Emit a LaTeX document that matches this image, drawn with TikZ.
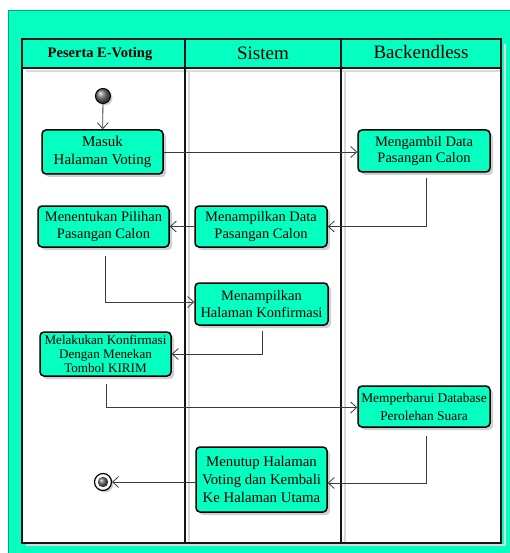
\documentclass[tikz,border=0pt]{standalone}
\usepackage{fontspec}
\setmainfont{Liberation Serif}
\usetikzlibrary{arrows.meta,shadows,shadings}
\definecolor{aqua}{RGB}{5,255,193}
\definecolor{lane}{RGB}{20,20,20}
\definecolor{conn}{RGB}{60,60,60}
\tikzset{
  act/.style={draw=black, line width=1.5pt, rounded corners=4pt, fill=aqua,
    align=center, inner sep=0pt,
    drop shadow={shadow xshift=3pt, shadow yshift=-3pt, fill=black!30, opacity=0.6}},
  flow/.style={draw=conn, line width=0.8pt, -{Straight Barb[length=6pt,width=11pt,line width=0.8pt]}},
  lanebar/.style={draw=lane, line width=1.5pt},
  laneshade/.style={draw=black!15, line width=1.5pt},
  hdr/.style={font=\fontsize{19}{22}\selectfont},
}
\begin{document}
\begin{tikzpicture}[x=1pt,y=-1pt]
\useasboundingbox (0,0) rectangle (510,553);
% outer frame
\fill[white] (0,0) rectangle (510,553);
\draw[fill=aqua, draw=black!35!aqua, line width=0.8pt] (8,10) rectangle (512,556);
% table
\fill[white] (22,39) rectangle (501,543);
\fill[aqua] (22,39) rectangle (501,68);
% shade lines
\draw[laneshade] (189,70) -- (189,543);
\draw[laneshade] (345,70) -- (345,543);
\draw[laneshade] (505,44) -- (505,545);
\draw[laneshade] (26,71) -- (501,71);
\draw[laneshade] (26,545) -- (505,545);
\draw[lanebar] (22,39) rectangle (501,543);
\draw[lanebar] (22,68) -- (501,68);
\draw[lanebar] (185,39) -- (185,543);
\draw[lanebar] (341,39) -- (341,543);
% headers
\node[font=\fontsize{14.5}{17}\selectfont\bfseries] (h1) at (100,54) {Peserta E-Voting};
\node[hdr] (h2) at (263,53) {Sistem};
\node[hdr] (h3) at (421,52) {Backendless};
% start / end
\node[circle, minimum size=15pt, inner sep=0pt, draw=black, line width=1pt, ball color=black!55,
  drop shadow={shadow xshift=2pt, shadow yshift=-2pt, fill=black!30, opacity=0.6}] (start) at (103,96) {};
\node[circle, minimum size=17pt, inner sep=0pt, draw=black, line width=1.2pt, fill=white,
  drop shadow={shadow xshift=2pt, shadow yshift=-2pt, fill=black!30, opacity=0.6}] (end) at (103,482) {};
\shade[ball color=black!60] (end.center) circle (5.2pt);
% activities
\node[act, minimum width=121pt, minimum height=44pt, font=\fontsize{15}{18}\selectfont] (masuk) at (102.5,152) {Masuk\\Halaman Voting};
\node[act, minimum width=132pt, minimum height=42pt, font=\fontsize{14.5}{16.8}\selectfont] (ambil) at (424,151) {Mengambil Data\\Pasangan Calon};
\node[act, minimum width=131pt, minimum height=41pt, font=\fontsize{14.5}{16.5}\selectfont] (tentu) at (103.5,226.5) {Menentukan Pilihan\\Pasangan Calon};
\node[act, minimum width=132pt, minimum height=41pt, font=\fontsize{14.5}{16.5}\selectfont] (tampil) at (261,226.5) {Menampilkan Data\\Pasangan Calon};
\node[act, minimum width=133pt, minimum height=42pt, font=\fontsize{14.5}{16.8}\selectfont] (konf) at (261.5,304) {Menampilkan\\Halaman Konfirmasi};
\node[act, minimum width=131pt, minimum height=44pt, font=\fontsize{13.1}{14.2}\selectfont] (laku) at (105.5,354) {Melakukan Konfirmasi\\Dengan Menekan\\Tombol KIRIM};
\node[act, minimum width=132pt, minimum height=41pt, font=\fontsize{13.4}{18}\selectfont] (baru) at (424,406.5) {Memperbarui Database\\Perolehan Suara};
\node[act, minimum width=131pt, minimum height=65pt, font=\fontsize{14.8}{18}\selectfont] (tutup) at (261.5,479.5) {Menutup Halaman\\Voting dan Kembali\\Ke Halaman Utama};
% connectors
\draw[flow] (start) -- (masuk);
\draw[flow] (masuk.east) -- (masuk.east -| ambil.west);
\draw[flow] (ambil.south) ++(2,5) coordinate (a1) -- (a1 |- tampil.east) -- (tampil.east);
\draw[flow] (tampil.west) -- (tentu.east);
\draw[flow] (tentu.south) ++(2,8) coordinate (a2) -- (a2 |- 0,302) coordinate (a3) -- (a3 -| konf.west);
\draw[flow] (konf.south) ++(0.5,5) coordinate (a4) -- (a4 |- laku.east) -- (laku.east);
\draw[flow] (laku.south) ++(1,7) coordinate (a5) -- (a5 |- 0,407.5) coordinate (a6) -- (a6 -| baru.west);
\draw[flow] (baru.south) ++(2,8) coordinate (a7) -- (a7 |- 0,483) coordinate (a8) -- (a8 -| tutup.east);
\draw[flow] (tutup.west |- 0,482) -- (end);
\end{tikzpicture}
\end{document}
